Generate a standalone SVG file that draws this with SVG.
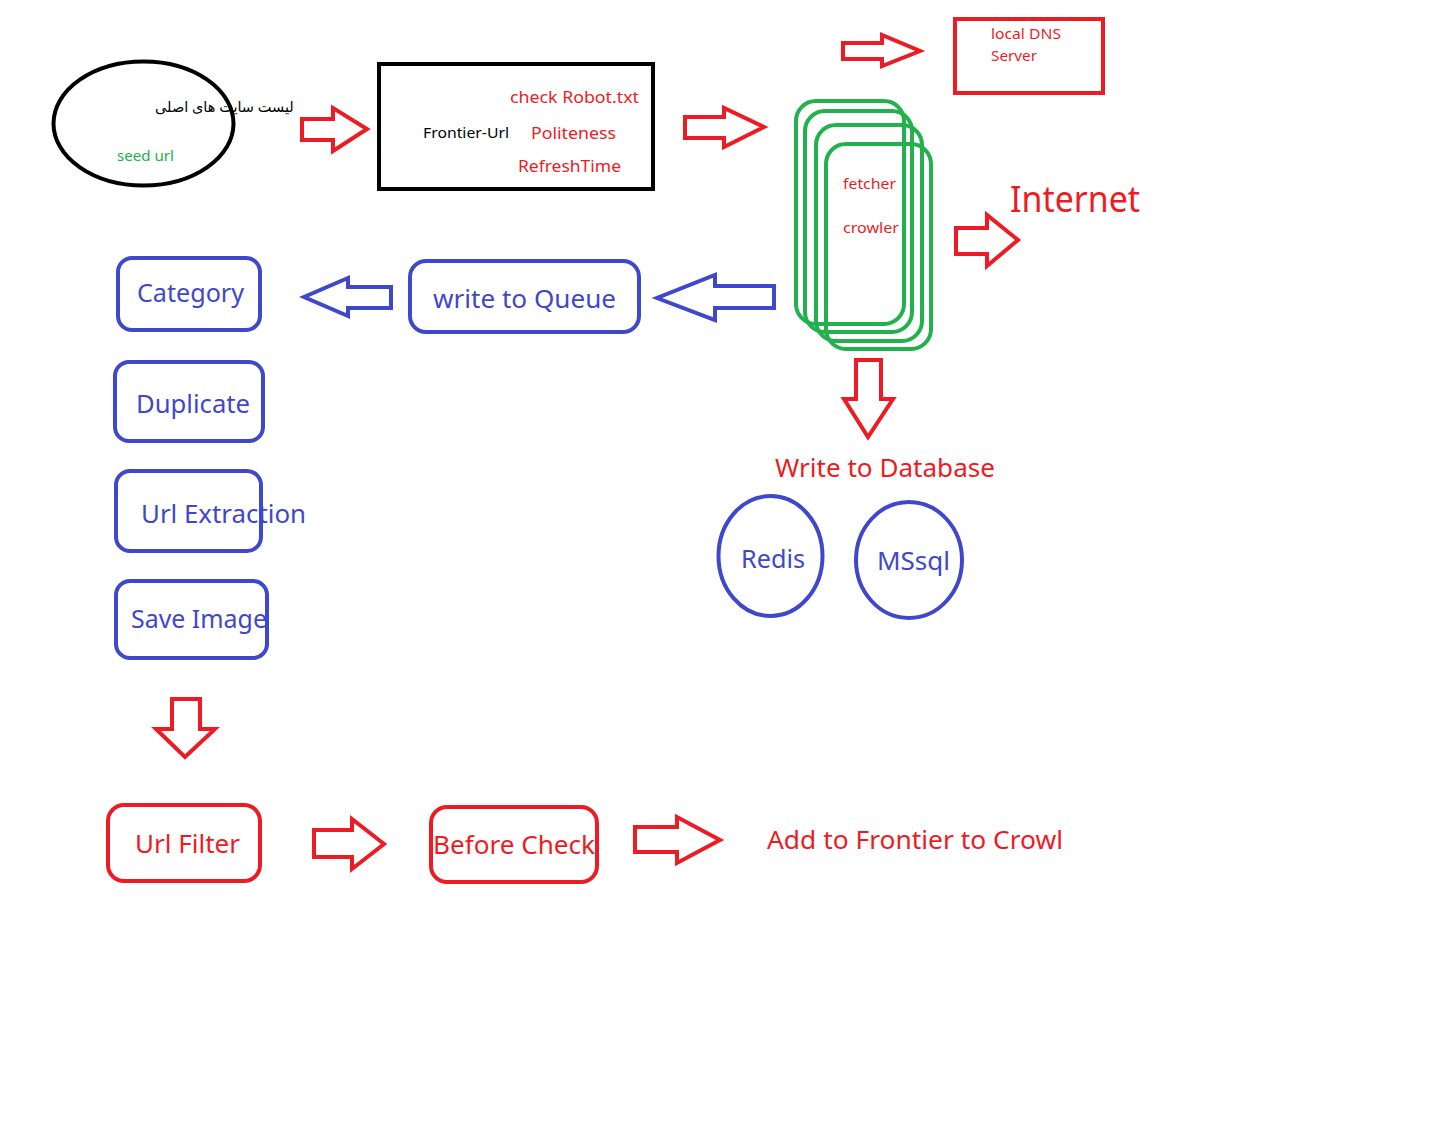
<svg xmlns="http://www.w3.org/2000/svg" width="1441" height="1148" viewBox="0 0 1441 1148">
  <style>
    text { font-family: "Noto Sans", "Open Sans", "DejaVu Sans", sans-serif; }
    .red { fill: #ed1c24; }
    .blue { fill: #3f48cc; }
    .green { fill: #22b14c; }
    .blk { fill: #000000; }
    .box-red { fill: none; stroke: #ed1c24; stroke-width: 4; }
    .box-blue { fill: none; stroke: #3f48cc; stroke-width: 4; }
    .box-green { fill: none; stroke: #22b14c; stroke-width: 4; }
    .box-blk { fill: none; stroke: #000000; stroke-width: 4; }
    .arr-red { fill: #ffffff; stroke: #ed1c24; stroke-width: 4; stroke-linejoin: miter; }
    .arr-blue { fill: #ffffff; stroke: #3f48cc; stroke-width: 4; stroke-linejoin: miter; }
  </style>
  <rect width="1441" height="1148" fill="#ffffff"/>

  <!-- seed list -->
  <g id="seed">
    <ellipse cx="143.5" cy="123.5" rx="90" ry="62" class="box-blk" stroke-width="4.5"/>
    <text x="155" y="112" font-size="14.5" class="blk">لیست سایت های اصلی</text>
    <text x="117" y="161" font-size="14" class="green" textLength="57" lengthAdjust="spacingAndGlyphs">seed url</text>
  </g>

  <!-- frontier -->
  <g id="frontier">
    <rect x="379" y="64" width="274" height="125" class="box-blk"/>
    <text x="510" y="103" font-size="17" class="red" textLength="129" lengthAdjust="spacingAndGlyphs">check Robot.txt</text>
    <text x="423" y="138" font-size="15" class="blk" textLength="86" lengthAdjust="spacingAndGlyphs">Frontier-Url</text>
    <text x="531" y="139" font-size="17" class="red" textLength="85" lengthAdjust="spacingAndGlyphs">Politeness</text>
    <text x="518" y="172" font-size="17" class="red" textLength="103" lengthAdjust="spacingAndGlyphs">RefreshTime</text>
  </g>

  <!-- DNS -->
  <g id="dns">
    <rect x="955" y="19" width="148" height="74" class="box-red"/>
    <text x="991" y="39" font-size="15" class="red" textLength="70" lengthAdjust="spacingAndGlyphs">local DNS</text>
    <text x="991" y="61" font-size="15" class="red" textLength="46" lengthAdjust="spacingAndGlyphs">Server</text>
  </g>

  <!-- fetcher / crawler stack -->
  <g id="fetcher">
    <rect x="796" y="101" width="108" height="223" rx="20" class="box-green"/>
    <rect x="805" y="111" width="107" height="221" rx="20" class="box-green"/>
    <rect x="816" y="125" width="106" height="216" rx="20" class="box-green"/>
    <rect x="826" y="144" width="105" height="205" rx="20" class="box-green"/>
    <text x="843" y="189" font-size="15" class="red" textLength="53" lengthAdjust="spacingAndGlyphs">fetcher</text>
    <text x="843" y="233" font-size="15" class="red" textLength="56" lengthAdjust="spacingAndGlyphs">crowler</text>
  </g>

  <g id="internet">
    <text x="1010" y="212" font-size="36" class="red" textLength="130" lengthAdjust="spacingAndGlyphs">Internet</text>
  </g>

  <!-- queue / processing -->
  <g id="queue">
    <rect x="410" y="261" width="229" height="71" rx="16" class="box-blue"/>
    <text x="433" y="308" font-size="25" class="blue" textLength="183" lengthAdjust="spacingAndGlyphs">write to Queue</text>
  </g>
  <g id="category">
    <rect x="118" y="258" width="142" height="72" rx="14" class="box-blue"/>
    <text x="137" y="302" font-size="25" class="blue" textLength="107" lengthAdjust="spacingAndGlyphs">Category</text>
  </g>
  <g id="duplicate">
    <rect x="115" y="362" width="148" height="79" rx="14" class="box-blue"/>
    <text x="136" y="413" font-size="25" class="blue" textLength="114" lengthAdjust="spacingAndGlyphs">Duplicate</text>
  </g>
  <g id="url-extraction">
    <rect x="116" y="471" width="145" height="80" rx="14" class="box-blue"/>
    <text x="141" y="523" font-size="25" class="blue" textLength="165" lengthAdjust="spacingAndGlyphs">Url Extraction</text>
  </g>
  <g id="save-image">
    <rect x="116" y="581" width="151" height="77" rx="14" class="box-blue"/>
    <text x="131" y="628" font-size="25" class="blue" textLength="136" lengthAdjust="spacingAndGlyphs">Save Image</text>
  </g>

  <!-- storage -->
  <g id="database">
    <text x="775" y="477" font-size="25" class="red" textLength="220" lengthAdjust="spacingAndGlyphs">Write to Database</text>
  </g>
  <g id="redis">
    <ellipse cx="770.5" cy="556" rx="52" ry="60" class="box-blue"/>
    <text x="741" y="568" font-size="25" class="blue" textLength="64" lengthAdjust="spacingAndGlyphs">Redis</text>
  </g>
  <g id="mssql">
    <ellipse cx="909" cy="560" rx="53" ry="58" class="box-blue"/>
    <text x="877" y="570" font-size="25" class="blue" textLength="73" lengthAdjust="spacingAndGlyphs">MSsql</text>
  </g>

  <!-- filtering -->
  <g id="url-filter">
    <rect x="108" y="805" width="152" height="76" rx="16" class="box-red"/>
    <text x="135" y="853" font-size="26" class="red" textLength="105" lengthAdjust="spacingAndGlyphs">Url Filter</text>
  </g>
  <g id="before-check">
    <rect x="431" y="807" width="166" height="75" rx="16" class="box-red"/>
    <text x="433" y="854" font-size="26" class="red" textLength="162" lengthAdjust="spacingAndGlyphs">Before Check</text>
  </g>
  <g id="add-frontier">
    <text x="767" y="849" font-size="26" class="red" textLength="296" lengthAdjust="spacingAndGlyphs">Add to Frontier to Crowl</text>
  </g>

  <!-- block arrows -->
  <g id="connectors">
    <polygon class="arr-red" points="302,119 333,119 333,108 367,129 333,151 333,140 302,140"/>
    <polygon class="arr-red" points="685,117 724,117 724,108 764,127 724,147 724,138 685,138"/>
    <polygon class="arr-red" points="843,43 882,43 882,35 920,51 882,66 882,59 843,59"/>
    <polygon class="arr-red" points="956,228 987,228 987,215 1018,240 987,266 987,254 956,254"/>
    <polygon class="arr-blue" points="774,286 715,286 715,275 657,298 715,320 715,308 774,308"/>
    <polygon class="arr-blue" points="391,287 348,287 348,278 304,297 348,316 348,308 391,308"/>
    <polygon class="arr-red" points="856,360 881,360 881,399 893,399 868,437 844,399 856,399"/>
    <polygon class="arr-red" points="172,699 200,699 200,729 215,729 185,757 156,729 172,729"/>
    <polygon class="arr-red" points="314,830 352,830 352,819 384,844 352,869 352,857 314,857"/>
    <polygon class="arr-red" points="635,827 677,827 677,817 720,840 677,863 677,852 635,852"/>
  </g>
</svg>
